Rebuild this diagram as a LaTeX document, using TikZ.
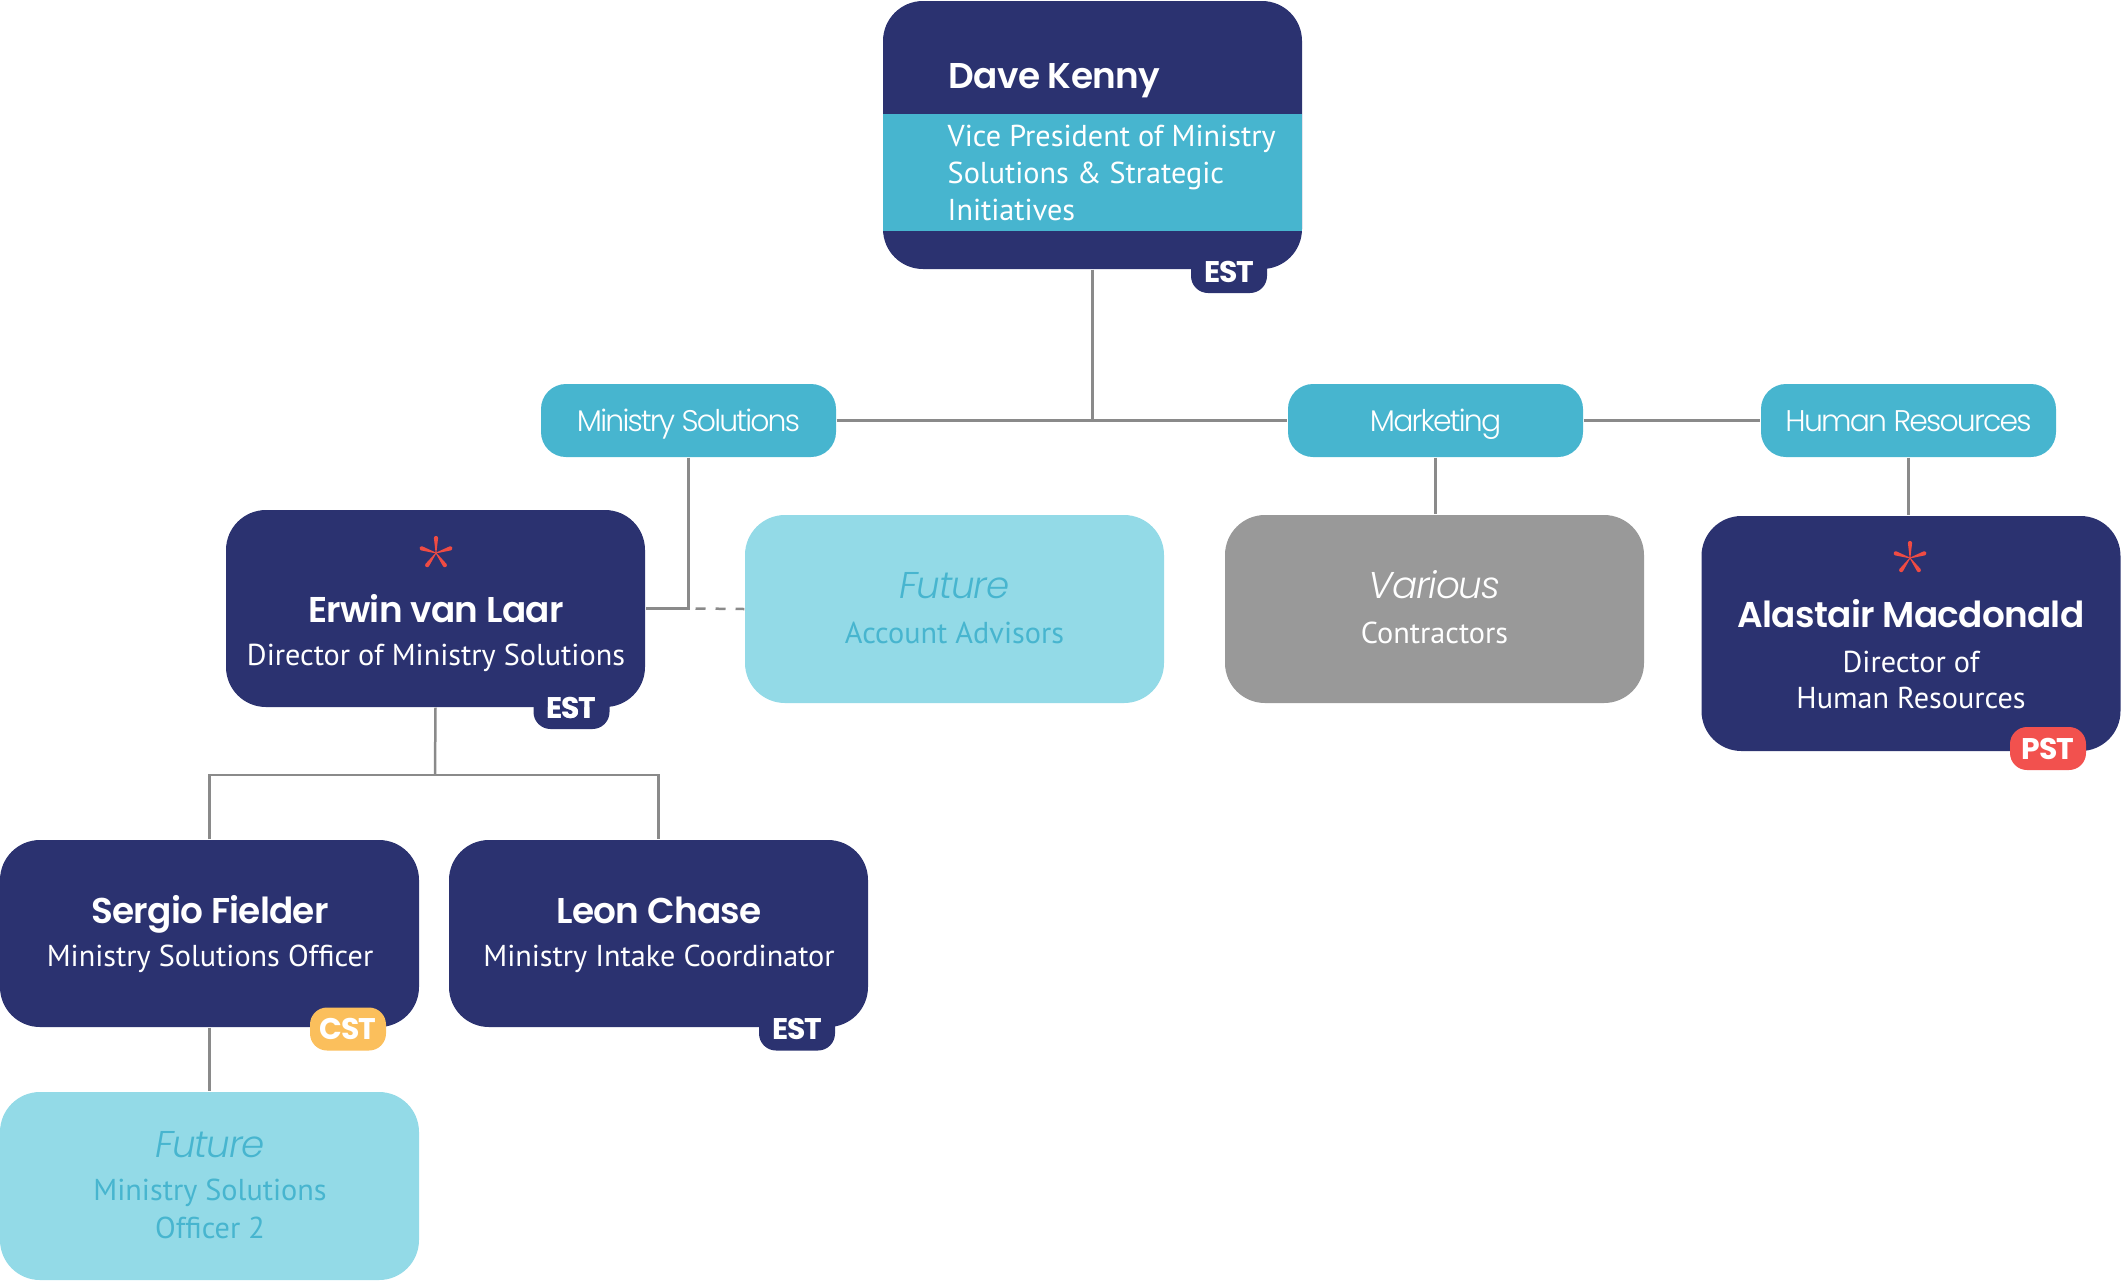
\documentclass[tikz,border=0pt]{standalone}
\usepackage{fontspec}
\newfontfamily\nmfont{Poppins SemiBold}[LetterSpace=-2]
\newfontfamily\tbfont{Poppins Bold}[LetterSpace=-4]
\newfontfamily\plfont{Poppins Light}[LetterSpace=-6]
\newfontfamily\ftfont{Poppins Light Italic}[LetterSpace=-3]
\newfontfamily\sbfont{PT Sans}
\definecolor{navy}{HTML}{2B3270}
\definecolor{deptblue}{HTML}{47B5CF}
\definecolor{paleblue}{HTML}{93DAE7}
\definecolor{boxgray}{HTML}{999999}
\definecolor{linegray}{HTML}{8A8A8A}
\definecolor{sparkred}{HTML}{EF4B43}
\definecolor{pstred}{HTML}{F2514E}
\definecolor{cstyellow}{HTML}{FBBF5C}

\begin{document}
\begin{tikzpicture}[
  conn/.style={draw=linegray, line width=0.025cm},
  box/.style={rounded corners=0.4cm, minimum width=4.19cm, inner sep=0pt},
  person/.style={box, fill=navy},
  future/.style={box, fill=paleblue},
  pill/.style={rounded corners=0.25cm, fill=deptblue, minimum width=2.95cm,
    minimum height=0.73cm, inner sep=0pt, text=white, text height=0.21cm,
    text depth=0cm, font=\plfont\fontsize{8.5}{10}\selectfont},
  tab/.style={rounded corners=0.17cm, minimum width=0.76cm, minimum height=0.43cm,
    inner sep=0pt, text=white, font=\tbfont\fontsize{8.5}{9}\selectfont},
  who/.style={inner sep=0pt, text=white, font=\nmfont\fontsize{10.2}{12}\selectfont},
  role/.style={inner sep=0pt, text=white, align=center,
    font=\sbfont\fontsize{8.6}{10.4}\selectfont},
  fut/.style={inner sep=0pt, font=\ftfont\fontsize{10.6}{12}\selectfont},
  pics/spark/.style={code={
    \foreach \a in {90,162,...,378}
      \fill[sparkred, rotate=\a] (0,0.004) -- (0.15,0.021)
        arc[start angle=90, end angle=-90, radius=0.021] -- (0,-0.004) -- cycle;
    }}
]
  \path[use as bounding box] (0,0) rectangle (21.21,-12.81);
  % top box
  \node[tab, fill=navy] (vp-tab) at (12.29,-2.715) {};
  \node[person, minimum height=2.68cm] (vp) at (10.925,-1.35) {};
  \fill[deptblue] (8.83,-1.14) rectangle (13.02,-2.31);
  \node[tab] (vp-tz) at (12.29,-2.715) {EST};
  \node[who, anchor=base west] (vp-who) at (9.48,-0.88) {Dave Kenny};
  \node[role, anchor=base west, align=left] (vp-role) at (9.47,-2.20)
    {Vice President of Ministry\\Solutions \& Strategic\\Initiatives};
  % departments
  \node[pill] (ms)  at ( 6.885,-4.205) {Ministry Solutions};
  \node[pill] (mkt) at (14.355,-4.205) {Marketing};
  \node[pill] (hr)  at (19.085,-4.205) {Human Resources};
  % second row
  \node[tab, fill=navy] (erwin-tz) at (5.715,-7.075) {EST};
  \node[person, minimum height=1.97cm] (erwin) at (4.355,-6.085) {};
  \node[tab] (erwin-tx) at (5.715,-7.075) {EST};
  \pic at (4.36,-5.53) {spark};
  \node[who, anchor=base] (erwin-who) at (4.36,-6.22) {Erwin van Laar};
  \node[role, anchor=base] (erwin-role) at (4.36,-6.65) {Director of Ministry Solutions};

  \node[future, minimum height=1.88cm] (fut1) at (9.545,-6.09) {};
  \node[fut, text=deptblue, anchor=base] (fut1-fut) at (9.545,-5.98) {Future};
  \node[role, text=deptblue, anchor=base] (fut1-role) at (9.545,-6.43) {Account Advisors};

  \node[box, fill=boxgray, minimum height=1.88cm] (var) at (14.345,-6.09) {};
  \node[fut, text=white, anchor=base] (var-fut) at (14.345,-5.98) {Various};
  \node[role, anchor=base] (var-role) at (14.345,-6.43) {Contractors};

  \node[person, minimum height=2.35cm] (alastair) at (19.11,-6.335) {};
  \node[tab, fill=pstred] (alastair-tz) at (20.48,-7.485) {PST};
  \pic at (19.10,-5.58) {spark};
  \node[who, anchor=base] (alastair-who) at (19.11,-6.27) {Alastair Macdonald};
  \node[role, anchor=base, font=\sbfont\fontsize{8.6}{10.2}\selectfont] (alastair-role)
    at (19.11,-7.08) {Director of\\Human Resources};
  % third row
  \node[person, minimum height=1.87cm] (sergio) at (2.095,-9.335) {};
  \node[tab, fill=cstyellow] (sergio-tz) at (3.48,-10.29) {CST};
  \node[who, anchor=base] (sergio-who) at (2.10,-9.23) {Sergio Fielder};
  \node[role, anchor=base] (sergio-role) at (2.10,-9.66) {Ministry Solutions Officer};

  \node[tab, fill=navy] (leon-tz) at (7.97,-10.29) {};
  \node[person, minimum height=1.87cm] (leon) at (6.585,-9.335) {};
  \node[tab] (leon-tx) at (7.97,-10.29) {EST};
  \node[who, anchor=base] (leon-who) at (6.59,-9.23) {Leon Chase};
  \node[role, anchor=base] (leon-role) at (6.59,-9.66) {Ministry Intake Coordinator};

  \node[future, minimum height=1.88cm] (fut2) at (2.095,-11.86) {};
  \node[fut, text=deptblue, anchor=base] (fut2-fut) at (2.10,-11.57) {Future};
  \node[role, text=deptblue, anchor=base, font=\sbfont\fontsize{8.6}{10.8}\selectfont]
    (fut2-role) at (2.10,-12.38) {Ministry Solutions\\Officer 2};
  % connectors
  \coordinate (fork) at (4.35,-7.75);
  \draw[conn] (vp.south) -- (vp.south |- ms.east);
  \draw[conn] (ms.east) -- (mkt.west);
  \draw[conn] (mkt.east) -- (hr.west);
  \draw[conn] (ms.south) |- (erwin.east);
  \draw[conn, dash pattern=on 0.1cm off 0.1cm] (ms.south |- erwin.east) ++(0.07,0) -- (fut1.west);
  \draw[conn] (mkt.south) -- (mkt.south |- var.north);
  \draw[conn] (hr.south) -- (hr.south |- alastair.north);
  \draw[conn] (erwin.south) -- (fork);
  \draw[conn] (sergio.north) |- (fork) -| (leon.north);
  \draw[conn] (sergio.south) -- (fut2.north);
\end{tikzpicture}
\end{document}
